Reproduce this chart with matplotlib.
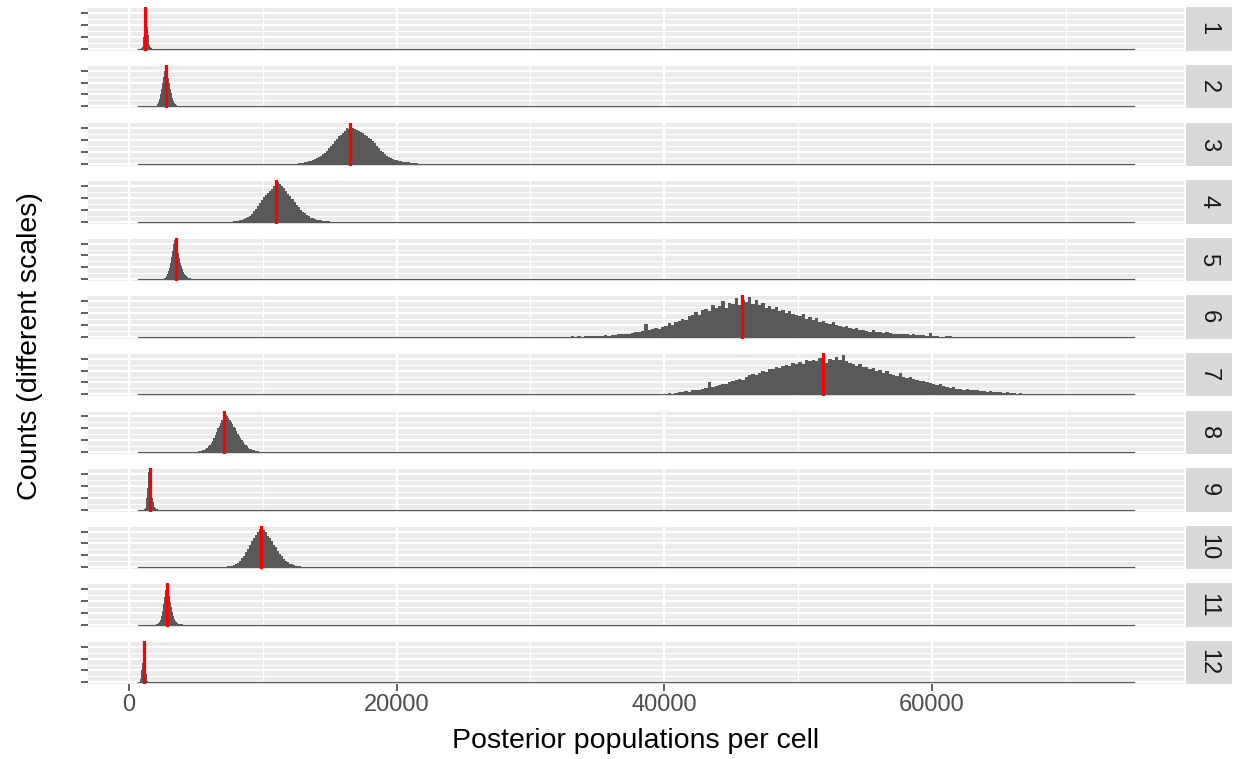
import matplotlib
matplotlib.use("Agg")
import matplotlib.pyplot as plt
from matplotlib.ticker import MultipleLocator
import numpy as np

plt.rcParams['font.family'] = ['Liberation Sans', 'DejaVu Sans']

# Data: per cell histogram (bin start, bin width, relative counts) and posterior mean
cells = ["1", "2", "3", "4", "5", "6", "7", "8", "9", "10", "11", "12"]

bin_start = [880, 1950, 12300, 7800, 2550, 33000, 39000, 4900, 1150, 7000, 2000, 820]
bin_width = [50, 75, 150, 150, 75, 250, 250, 100, 50, 150, 75, 40]

counts = [
    # 1
    [1, 2, 5, 12, 30, 55, 80, 100, 92, 75, 55, 35, 20, 10, 4, 2, 1],
    # 2
    [1, 2, 5, 10, 18, 30, 45, 60, 75, 90, 100, 93, 85, 72, 60, 45, 33, 22, 14, 9,
     5, 3, 2, 1, 1, 0],
    # 3
    [1, 0, 2, 3, 2, 4, 5, 7, 8, 10, 12, 15, 17, 20, 24, 28, 34, 40, 45, 50,
     58, 62, 70, 73, 79, 84, 90, 88, 100, 92, 89, 86, 83, 81, 78, 74, 70, 66, 62, 57,
     52, 45, 40, 34, 29, 24, 20, 17, 15, 13, 11, 9, 8, 7, 6, 5, 4, 4, 3, 3,
     2, 2, 1, 1, 0, 1],
    # 4
    [1, 1, 2, 3, 4, 6, 8, 11, 15, 20, 26, 32, 40, 47, 55, 62, 67, 72, 78, 83,
     90, 96, 100, 95, 89, 84, 77, 71, 64, 56, 49, 42, 36, 30, 25, 21, 17, 13, 10, 8,
     6, 5, 4, 3, 2, 2, 1, 1],
    # 5
    [1, 2, 4, 7, 12, 20, 28, 40, 55, 72, 88, 100, 96, 91, 80, 66, 53, 41, 33, 25,
     18, 13, 10, 7, 5, 4, 3, 2, 1, 1],
    # 6
    [1, 0, 1, 0, 2, 1, 2, 2, 3, 2, 4, 3, 5, 4, 6, 7, 8, 7, 10, 11,
     12, 14, 32, 17, 19, 22, 20, 25, 27, 34, 30, 38, 40, 46, 43, 52, 56, 62, 54, 68,
     70, 66, 81, 74, 77, 90, 72, 85, 84, 97, 80, 92, 88, 100, 83, 94, 80, 86, 74, 78,
     70, 75, 64, 68, 61, 66, 57, 55, 52, 58, 46, 49, 43, 47, 38, 41, 36, 33, 38, 29,
     27, 24, 26, 21, 20, 22, 17, 18, 15, 13, 16, 12, 12, 10, 11, 9, 8, 7, 8, 6,
     6, 5, 6, 4, 4, 5, 3, 10, 2, 1, 0, 0, 1, 1],
    # 7
    [1, 0, 1, 2, 2, 3, 2, 4, 5, 6, 8, 7, 10, 12, 11, 14, 16, 30, 18, 20,
     24, 27, 26, 31, 33, 37, 40, 36, 45, 48, 52, 50, 55, 60, 57, 63, 64, 70, 66, 72,
     74, 71, 80, 76, 82, 78, 86, 84, 88, 85, 92, 90, 80, 89, 86, 94, 88, 100, 84, 80,
     76, 72, 78, 68, 70, 64, 66, 60, 62, 55, 58, 52, 50, 47, 54, 43, 42, 45, 38, 36,
     33, 35, 30, 28, 26, 24, 25, 21, 19, 17, 18, 14, 14, 12, 13, 11, 10, 11, 8, 9,
     7, 8, 6, 6, 5, 4, 5, 3, 3, 2, 3, 2, 2, 1, 2, 1, 1, 1],
    # 8
    [1, 0, 1, 2, 3, 3, 5, 6, 8, 11, 14, 18, 22, 28, 36, 42, 50, 60, 66, 74,
     82, 88, 100, 94, 91, 86, 82, 76, 70, 64, 60, 52, 45, 40, 35, 29, 25, 21, 17, 14,
     11, 8, 7, 5, 4, 3, 2, 2, 1, 1],
    # 9
    [1, 4, 12, 30, 55, 80, 95, 100, 92, 80, 62, 45, 30, 18, 11, 6, 3, 2, 1, 1],
    # 10
    [1, 1, 2, 3, 4, 6, 8, 11, 16, 22, 29, 38, 46, 55, 66, 74, 82, 89, 96, 100,
     94, 88, 80, 73, 66, 57, 50, 42, 34, 27, 21, 16, 12, 9, 7, 5, 4, 3, 2, 1, 1],
    # 11
    [1, 2, 4, 7, 13, 22, 35, 52, 70, 88, 100, 95, 86, 72, 58, 44, 32, 22, 15, 10,
     7, 4, 3, 2, 1, 1, 1],
    # 12
    [2, 8, 18, 32, 50, 70, 88, 100, 90, 72, 52, 34, 20, 10, 4, 1],
]

post_mean = [1240, 2760, 16540, 10970, 3510, 45770, 51840, 7140, 1590, 9850, 2860, 1140]

# overall range of the posterior samples (shared x scale)
sample_min = 670
sample_max = 75100

# Layout (pixels)
W, H = 1235, 759
panel_left, panel_right = 88, 1184
strip_left, strip_right = 1185.5, 1231.7
first_top, pitch, panel_h = 7.3, 57.6, 43.4

fig = plt.figure(figsize=(W / 100, H / 100), dpi=100)

span = sample_max - sample_min
xlim = (sample_min - 0.05 * span, sample_max + 0.05 * span)

for i, name in enumerate(cells):
    top = first_top + pitch * i
    rect = [panel_left / W, 1 - (top + panel_h) / H,
            (panel_right - panel_left) / W, panel_h / H]
    ax = fig.add_axes(rect)
    ax.set_facecolor('#EBEBEB')
    for s in ax.spines.values():
        s.set_visible(False)

    c = np.array(counts[i], dtype=float)
    edges = bin_start[i] + bin_width[i] * np.arange(len(c) + 1)
    ax.plot([sample_min, sample_max], [0, 0], color='#595959', lw=0.9, zorder=2)
    ax.stairs(c, edges, fill=True, color='#595959', lw=0, zorder=3)
    ax.axvline(post_mean[i], color='red', lw=2.3, zorder=4)

    top_y = c.max()
    ax.set_ylim(-0.05 * top_y, 1.05 * top_y)
    ax.set_xlim(*xlim)

    ax.xaxis.set_major_locator(MultipleLocator(20000))
    ax.xaxis.set_minor_locator(MultipleLocator(10000))
    ax.yaxis.set_major_locator(MultipleLocator(30))
    ax.yaxis.set_minor_locator(MultipleLocator(15))
    ax.grid(which='major', color='white', lw=1.7)
    ax.grid(which='minor', color='white', lw=0.85)
    ax.set_axisbelow(True)

    ax.tick_params(axis='y', which='major', length=4.7, width=1.1, color='#333333',
                   labelleft=False)
    ax.tick_params(axis='y', which='minor', length=0)
    ax.tick_params(axis='x', which='minor', length=0)
    if i == len(cells) - 1:
        ax.tick_params(axis='x', which='major', length=4.7, width=1.1, color='#333333',
                       labelsize=17, labelcolor='#4D4D4D', pad=2.0)
        ax.xaxis.set_major_formatter(lambda v, p: f"{v:.0f}")
    else:
        ax.tick_params(axis='x', which='major', length=0, labelbottom=False)

    sax = fig.add_axes([strip_left / W, 1 - (top + panel_h) / H,
                        (strip_right - strip_left) / W, panel_h / H])
    sax.set_facecolor('#D9D9D9')
    sax.set_xticks([])
    sax.set_yticks([])
    for s in sax.spines.values():
        s.set_visible(False)
    sax.text(0.5, 0.5, name, rotation=270, ha='center', va='center',
             fontsize=17, color='#1A1A1A', transform=sax.transAxes)

fig.text(30 / W, 1 - 346 / H, "Counts (different scales)", rotation=90,
         ha='center', va='center', fontsize=20.5, color='black')
fig.text(636 / W, 1 - 741 / H, "Posterior populations per cell",
         ha='center', va='center', fontsize=20.5, color='black')

fig.savefig("out.png", dpi=100)
